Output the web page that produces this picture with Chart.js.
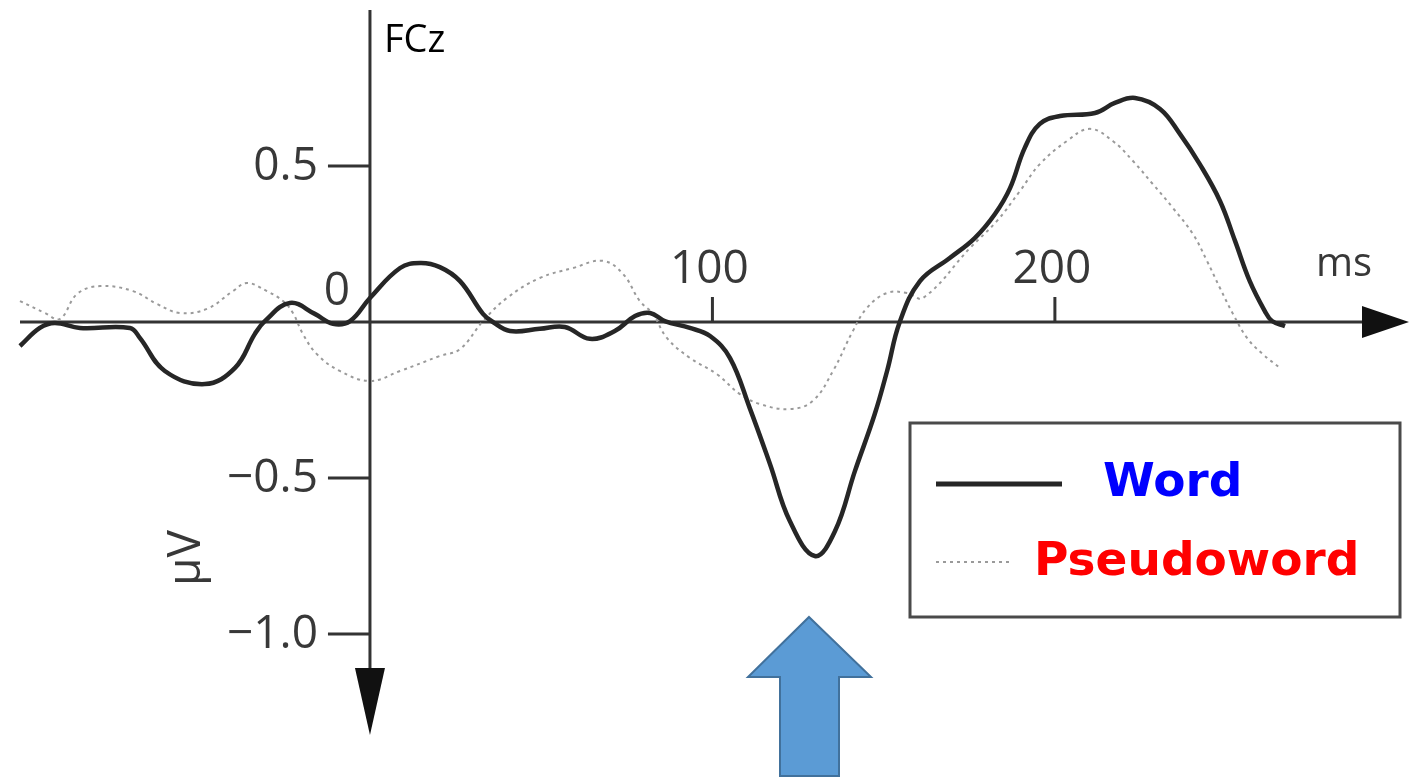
<!DOCTYPE html>
<html>
<head>
<meta charset="utf-8">
<script src="https://cdn.jsdelivr.net/npm/chart.js@4.4.0/dist/chart.umd.min.js"></script>
<style>
  html, body { margin: 0; padding: 0; background: #ffffff; }
  #wrap { width: 1409px; height: 779px; position: relative; }
</style>
</head>
<body>
<div id="wrap"><canvas id="erp"></canvas></div>
<script>
// ERP waveform at FCz: latency (ms) and amplitude (µV)
const wordMs = [-102.2, -96.4, -92.0, -84.7, -70.1, -67.2, -59.9, -48.2, -39.4, -33.6, -30.7, -23.4, -16.1, -10.8, -5.8, 0, 8.8, 14.6, 20.4, 26.3, 33.0, 35.9, 40.9, 49.6, 56.9, 64.2, 71.5, 77.4, 81.8, 86.1, 93.4, 99.3, 105.1, 110.9, 116.8, 122.6, 129.9, 135.8, 141.6, 147.4, 151.0, 154.7, 160.6, 169.3, 176.6, 182.5, 186.9, 191.2, 195.6, 201.5, 211.7, 217.5, 223.4, 230.7, 236.5, 242.3, 248.2, 252.6, 256.9, 261.3, 263.4, 267.2];
const wordUv = [-0.077, -0.019, -0.003, -0.019, -0.019, -0.051, -0.157, -0.199, -0.147, -0.038, 0.003, 0.061, 0.026, -0.006, 0.003, 0.077, 0.173, 0.189, 0.176, 0.131, 0.026, 0.0, -0.029, -0.022, -0.016, -0.054, -0.029, 0.019, 0.029, 0.003, -0.019, -0.045, -0.115, -0.276, -0.455, -0.638, -0.750, -0.670, -0.478, -0.295, -0.157, 0.0, 0.131, 0.205, 0.269, 0.346, 0.429, 0.558, 0.635, 0.660, 0.670, 0.702, 0.718, 0.683, 0.603, 0.506, 0.388, 0.260, 0.131, 0.035, 0.003, -0.013];

const pseudoMs = [-102.2, -94.9, -90.5, -85.5, -78.8, -69.2, -62.2, -55.5, -47.6, -40.0, -35.9, -30.1, -25.4, -22.5, -19.6, -15.5, -8.8, 0, 8.8, 20.4, 26.3, 33.0, 40.0, 49.6, 59.3, 68.0, 73.9, 78.8, 82.6, 86.7, 93.4, 101.3, 108.0, 113.9, 122.6, 129.3, 135.2, 141.0, 145.1, 151.0, 156.8, 161.5, 175.2, 183.1, 189.8, 195.6, 203.5, 210.2, 216.9, 222.8, 228.6, 234.5, 240.3, 244.4, 248.2, 252.0, 256.1, 260.7, 265.7];
const pseudoUv = [0.067, 0.029, 0.010, 0.090, 0.115, 0.099, 0.058, 0.029, 0.042, 0.099, 0.125, 0.099, 0.067, 0.029, -0.038, -0.103, -0.157, -0.189, -0.157, -0.109, -0.087, 0.003, 0.077, 0.141, 0.173, 0.196, 0.154, 0.067, 0.026, -0.051, -0.115, -0.167, -0.231, -0.263, -0.279, -0.253, -0.157, -0.029, 0.045, 0.093, 0.093, 0.077, 0.237, 0.324, 0.420, 0.506, 0.580, 0.619, 0.580, 0.516, 0.442, 0.365, 0.282, 0.196, 0.109, 0.026, -0.051, -0.103, -0.147];

const xTicks = [100, 200];
const xTickLabels = ['100', '200'];
const yTicks = [0.5, -0.5, -1.0];
const yTickLabels = ['0.5', '\u22120.5', '\u22121.0'];
const seriesNames = ['Word', 'Pseudoword'];
const channelName = 'FCz';
const xUnit = 'ms';
const yUnit = '\u03bcV';

const toPoints = (xs, ys) => xs.map((x, i) => ({ x: x, y: ys[i] }));

// Hand-drawn style axes, ticks, labels, legend box and pointer arrow
const erpDecor = {
  id: 'erpDecor',
  beforeDatasetsDraw(chart) {
    const ctx = chart.ctx;
    const xs = chart.scales.x, ys = chart.scales.y;
    const x0 = xs.getPixelForValue(0), y0 = ys.getPixelForValue(0);
    ctx.save();
    ctx.strokeStyle = '#333333';
    ctx.fillStyle = '#111111';
    ctx.lineWidth = 3;
    // horizontal axis with arrow
    ctx.beginPath();
    ctx.moveTo(20, y0);
    ctx.lineTo(1366, y0);
    ctx.stroke();
    ctx.beginPath();
    ctx.moveTo(1362, y0 - 16);
    ctx.lineTo(1409, y0);
    ctx.lineTo(1362, y0 + 16);
    ctx.closePath();
    ctx.fill();
    // vertical axis with arrow (negative down)
    ctx.beginPath();
    ctx.moveTo(x0, 10);
    ctx.lineTo(x0, 672);
    ctx.stroke();
    ctx.beginPath();
    ctx.moveTo(x0 - 15, 668);
    ctx.lineTo(x0 + 15, 668);
    ctx.lineTo(x0, 735);
    ctx.closePath();
    ctx.fill();
    // y ticks
    ctx.font = '46px "Open Sans"';
    ctx.fillStyle = '#383838';
    ctx.textAlign = 'right';
    ctx.textBaseline = 'middle';
    yTicks.forEach((v, i) => {
      const py = ys.getPixelForValue(v);
      ctx.beginPath();
      ctx.moveTo(x0 - 42, py);
      ctx.lineTo(x0, py);
      ctx.stroke();
      ctx.fillText(yTickLabels[i], x0 - 52, py + 1);
    });
    // x ticks
    ctx.textAlign = 'center';
    ctx.textBaseline = 'alphabetic';
    xTicks.forEach((v, i) => {
      const px = xs.getPixelForValue(v);
      ctx.beginPath();
      ctx.moveTo(px, y0 - 25);
      ctx.lineTo(px, y0);
      ctx.stroke();
      ctx.fillText(xTickLabels[i], px - 3, y0 - 39);
    });
    // origin label
    ctx.fillText('0', x0 - 33, y0 - 17);
    // unit labels
    ctx.font = '40px "Open Sans"';
    ctx.textAlign = 'left';
    ctx.fillText(xUnit, 1316, y0 - 46);
    ctx.save();
    ctx.translate(187, 558);
    ctx.rotate(-Math.PI / 2);
    ctx.textAlign = 'center';
    ctx.textBaseline = 'middle';
    ctx.font = '46px "Open Sans"';
    ctx.fillText(yUnit, 0, 0);
    ctx.restore();
    // channel name
    ctx.fillStyle = '#000000';
    ctx.font = '38px "Open Sans"';
    ctx.textAlign = 'left';
    ctx.fillText(channelName, 384, 52);
    ctx.restore();
  },
  afterDatasetsDraw(chart) {
    const ctx = chart.ctx;
    ctx.save();
    // legend box
    ctx.fillStyle = '#ffffff';
    ctx.fillRect(910, 423, 490, 194);
    ctx.strokeStyle = '#4a4a4a';
    ctx.lineWidth = 3;
    ctx.strokeRect(910, 423, 490, 194);
    const ds = chart.data.datasets;
    ctx.strokeStyle = ds[0].borderColor;
    ctx.lineWidth = 5;
    ctx.beginPath();
    ctx.moveTo(936, 484);
    ctx.lineTo(1062, 484);
    ctx.stroke();
    ctx.strokeStyle = ds[1].borderColor;
    ctx.lineWidth = 2;
    ctx.setLineDash(ds[1].borderDash);
    ctx.beginPath();
    ctx.moveTo(936, 562);
    ctx.lineTo(1010, 562);
    ctx.stroke();
    ctx.setLineDash([]);
    ctx.font = 'bold 47px "DejaVu Sans"';
    ctx.textAlign = 'left';
    ctx.textBaseline = 'alphabetic';
    ctx.fillStyle = '#0000ff';
    ctx.fillText(seriesNames[0], 1103, 496);
    ctx.fillStyle = '#ff0000';
    ctx.fillText(seriesNames[1], 1034, 575);
    // upward block arrow below the negative peak
    ctx.fillStyle = '#5b9bd5';
    ctx.strokeStyle = '#41719c';
    ctx.lineWidth = 2;
    ctx.beginPath();
    ctx.moveTo(809, 617);
    ctx.lineTo(871, 677);
    ctx.lineTo(839, 677);
    ctx.lineTo(839, 776);
    ctx.lineTo(780, 776);
    ctx.lineTo(780, 677);
    ctx.lineTo(748, 677);
    ctx.closePath();
    ctx.fill();
    ctx.stroke();
    ctx.restore();
  }
};

new Chart(document.getElementById('erp'), {
  type: 'line',
  data: {
    datasets: [
      {
        label: seriesNames[0],
        data: toPoints(wordMs, wordUv),
        borderColor: '#262626',
        borderWidth: 4.5,
        pointRadius: 0,
        tension: 0.4,
        fill: false
      },
      {
        label: seriesNames[1],
        data: toPoints(pseudoMs, pseudoUv),
        borderColor: '#9a9a9a',
        borderWidth: 2,
        borderDash: [3, 4],
        pointRadius: 0,
        tension: 0.4,
        fill: false
      }
    ]
  },
  options: {
    responsive: true,
    maintainAspectRatio: false,
    animation: false,
    layout: { padding: 0 },
    plugins: { legend: { display: false }, tooltip: { enabled: false } },
    scales: {
      x: { type: 'linear', min: -108.03, max: 303.4, display: false },
      y: { type: 'linear', min: -1.46474, max: 1.03205, display: false }
    }
  },
  plugins: [erpDecor]
});
</script>
</body>
</html>
